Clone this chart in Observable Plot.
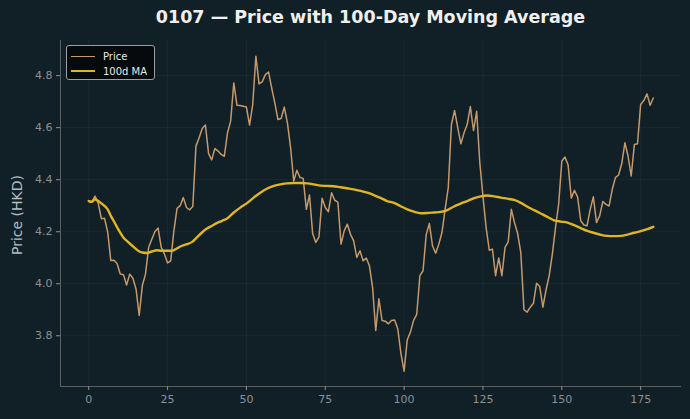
<!DOCTYPE html>
<html><head><meta charset="utf-8">
<script src="https://cdn.jsdelivr.net/npm/d3@7"></script>
<script src="https://cdn.jsdelivr.net/npm/@observablehq/plot@0.6"></script>
<style>
body{margin:0;background:#111f26;}
#wrap{position:relative;width:690px;height:419px;background:#111f26;font-family:"DejaVu Sans",sans-serif;overflow:hidden;}
#title{position:absolute;top:7px;left:60px;width:621px;text-align:center;color:#f0f0f0;font-weight:bold;font-size:17.5px;}
#ylab{position:absolute;left:17px;top:215px;transform:translate(-50%,-50%) rotate(-90deg);color:#b4bcc0;font-size:14px;white-space:nowrap;}
#legend{position:absolute;left:66px;top:45px;width:87px;height:33px;background:#050a0c;border:1px solid #9aa0a4;border-radius:3px;font-size:10px;color:#e8e8e8;}
.li{position:absolute;left:4px;height:12px;display:flex;align-items:center;}
.sw{width:24px;margin-right:8px;}
#chart{position:absolute;left:0;top:0;}
</style></head>
<body>
<div id="wrap">
  <div id="chart"></div>
  <div id="title"></div>
  <div id="ylab"></div>
  <div id="legend"></div>
</div>
<script>
const titleText = "0107 — Price with 100-Day Moving Average";
const yLabel = "Price (HKD)";
const seriesNames = ["Price", "100d MA"];
const seriesColors = ["#c49a6c", "#e0b520"];

const price = [
4.318,4.315,4.337,4.31,4.25,4.252,4.20,4.089,4.09,4.078,
4.037,4.035,3.995,4.037,4.021,3.98,3.878,3.993,4.037,4.14,
4.171,4.201,4.214,4.14,4.114,4.08,4.088,4.203,4.29,4.30,
4.331,4.293,4.284,4.297,4.529,4.561,4.597,4.61,4.50,4.476,
4.52,4.51,4.497,4.49,4.58,4.625,4.772,4.686,4.685,4.682,
4.679,4.61,4.689,4.874,4.768,4.776,4.804,4.814,4.753,4.695,
4.631,4.635,4.679,4.618,4.523,4.395,4.436,4.408,4.405,4.286,
4.341,4.193,4.159,4.18,4.329,4.293,4.277,4.35,4.321,4.314,
4.152,4.203,4.229,4.19,4.165,4.101,4.127,4.088,4.099,4.069,
3.986,3.82,3.942,3.859,3.856,3.846,3.859,3.861,3.826,3.731,
3.664,3.785,3.814,3.859,3.882,4.031,4.05,4.188,4.232,4.146,
4.117,4.152,4.197,4.286,4.37,4.612,4.666,4.6,4.538,4.58,
4.612,4.681,4.589,4.663,4.465,4.337,4.216,4.129,4.133,4.031,
4.099,4.031,4.14,4.161,4.286,4.235,4.193,4.12,3.9,3.891,
3.91,3.925,4.002,3.989,3.91,3.976,4.031,4.114,4.216,4.306,
4.471,4.487,4.456,4.329,4.359,4.334,4.242,4.226,4.223,4.286,
4.334,4.235,4.261,4.316,4.305,4.299,4.363,4.408,4.418,4.461,
4.542,4.491,4.414,4.535,4.538,4.689,4.704,4.73,4.686,4.714
];

const maDays = [0,1,2,3,5,6,7,8,9.5,11,12.6,14.2,15.8,17,18.5,20,21.6,23.2,24.8,26.4,28,29.6,31.2,32.8,34.3,35.9,37.5,39.1,40.7,42.3,44,46,48.1,50.2,52.3,54.4,56.6,58.7,60.8,62.9,65,67.1,69.3,71.4,73.5,75.6,77.7,79.8,81.9,84,86.2,88.3,90.4,92.5,94.6,96.8,98.9,101,103.1,105.2,107.4,109.5,111.6,113.7,115.8,117.9,120,122.2,124.3,126.4,128.5,130.6,132.7,134.9,137,139.1,141.2,143.3,145.4,147.6,149.7,151.8,153.9,156,158.1,160.3,162.4,164.5,166.6,168.7,170.8,172.9,175,177.1,179];
const maVals = [4.318,4.315,4.325,4.318,4.299,4.286,4.261,4.24,4.206,4.178,4.159,4.142,4.126,4.12,4.118,4.124,4.129,4.127,4.127,4.127,4.136,4.146,4.152,4.161,4.178,4.197,4.212,4.223,4.234,4.242,4.252,4.274,4.293,4.31,4.331,4.35,4.366,4.376,4.382,4.386,4.387,4.387,4.386,4.382,4.377,4.376,4.375,4.371,4.367,4.363,4.357,4.35,4.341,4.330,4.318,4.311,4.298,4.286,4.277,4.271,4.272,4.274,4.276,4.283,4.297,4.308,4.318,4.329,4.336,4.339,4.336,4.331,4.327,4.322,4.311,4.296,4.283,4.27,4.257,4.244,4.239,4.235,4.225,4.214,4.203,4.195,4.188,4.184,4.183,4.184,4.189,4.196,4.202,4.21,4.219];

const xTicks = [0,25,50,75,100,125,150,175];
const yTicks = [3.8,4.0,4.2,4.4,4.6,4.8];
const xDomain = [-8.95, 187.95];
const yDomain = [3.605, 4.935];

const priceData = price.map((p,i)=>({day:i, value:p}));
const maData = maDays.map((d,i)=>({day:d, value:maVals[i]}));

document.getElementById("title").textContent = titleText;
document.getElementById("ylab").textContent = yLabel;
const leg = document.getElementById("legend");
seriesNames.forEach((n,i)=>{
  const row = document.createElement("div");
  row.className="li";
  row.style.top = (4 + i*15) + "px";
  const sw = document.createElement("div");
  sw.className="sw";
  sw.style.borderTop = (i===0?1.5:2.5) + "px solid " + seriesColors[i];
  row.appendChild(sw);
  const t = document.createElement("span");
  t.textContent = n;
  row.appendChild(t);
  leg.appendChild(row);
});

const chart = Plot.plot({
  width: 690, height: 419,
  marginTop: 40, marginLeft: 60, marginRight: 9, marginBottom: 33,
  style: {background: "transparent", color: "#8a9296", fontSize: "11px", fontFamily: "DejaVu Sans, sans-serif"},
  x: {domain: xDomain},
  y: {domain: yDomain},
  marks: [
    Plot.gridX(xTicks, {stroke: "#ffffff", strokeOpacity: 0.045}),
    Plot.gridY(yTicks, {stroke: "#ffffff", strokeOpacity: 0.045}),
    Plot.ruleX([xDomain[0]], {stroke: "#5a5f62", strokeWidth: 1}),
    Plot.ruleY([yDomain[0]], {stroke: "#5a5f62", strokeWidth: 1}),
    Plot.axisX({ticks: xTicks, tickSize: 4, tickPadding: 5, label: null, stroke: "#8a9296", fill: "#8a9296"}),
    Plot.axisY({ticks: yTicks, tickFormat: d => d.toFixed(1), tickSize: 4, tickPadding: 4, label: null, stroke: "#8a9296", fill: "#8a9296"}),
    Plot.line(priceData, {x: "day", y: "value", stroke: seriesColors[0], strokeWidth: 1.5}),
    Plot.line(maData, {x: "day", y: "value", stroke: seriesColors[1], strokeWidth: 2.4, curve: "monotone-x"})
  ]
});
document.getElementById("chart").appendChild(chart);
</script>
</body></html>
